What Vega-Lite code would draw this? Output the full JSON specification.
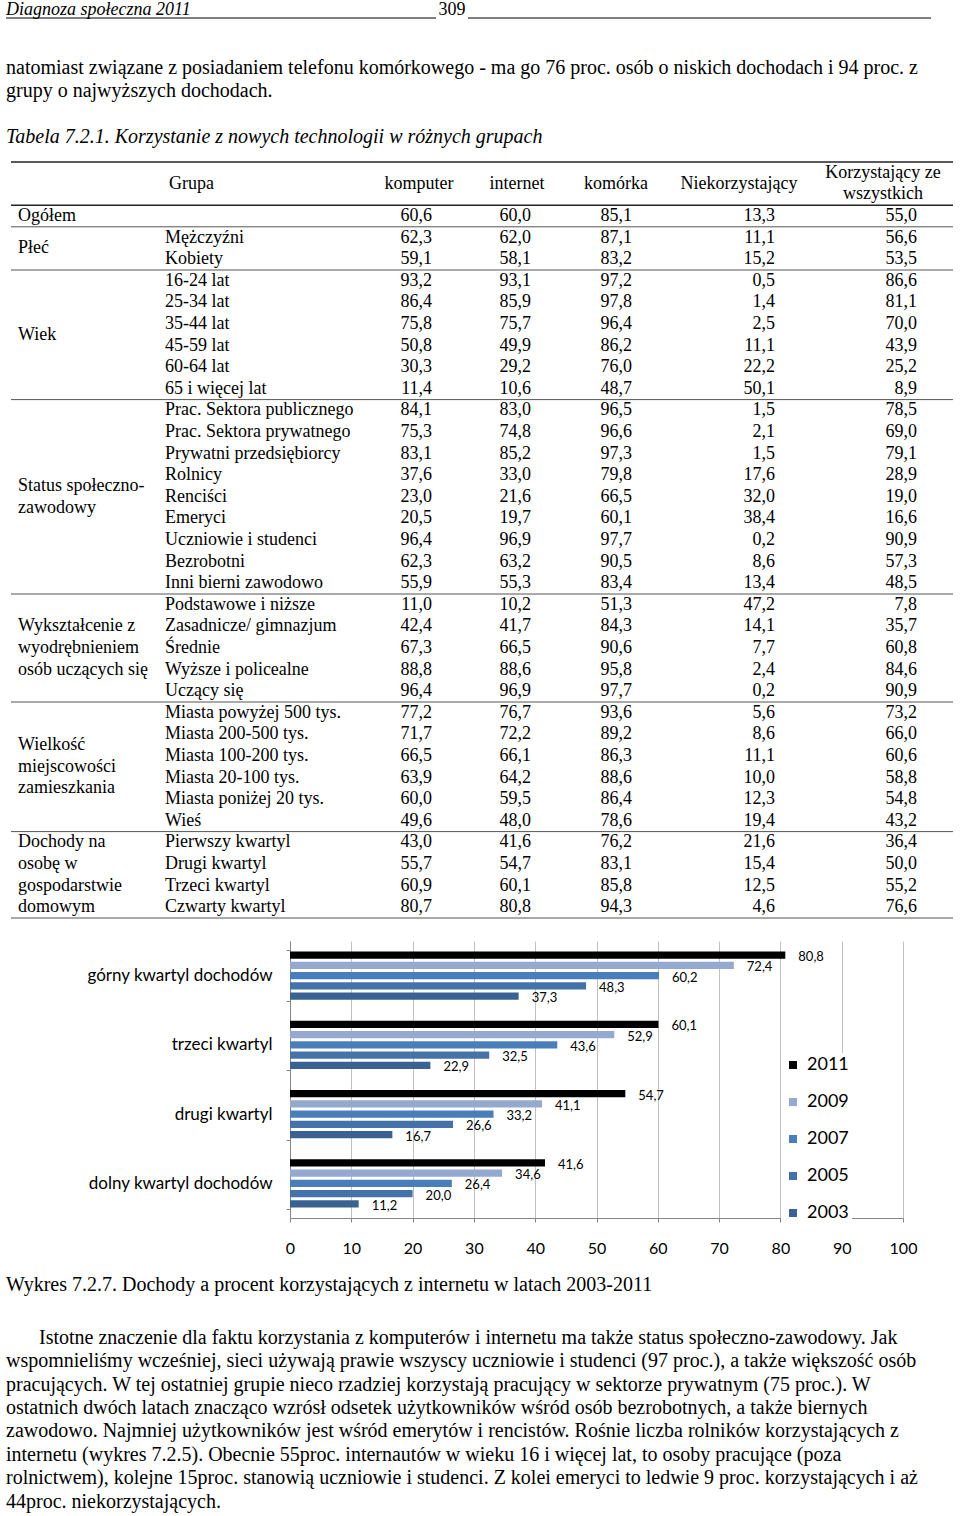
{
  "$schema": "https://vega.github.io/schema/vega-lite/v6.json",
  "background": "white",
  "padding": {"left": 5, "right": 5, "top": 0, "bottom": 0},
  "spacing": 0,
  "resolve": {"scale": {"color": "independent"}, "legend": {"color": "independent"}},
  "config": {
    "view": {"stroke": null},
    "locale": {"number": {"decimal": ",", "thousands": " ", "grouping": [3], "currency": ["", " zł"]}}
  },
  "datasets": {
    "teksty": [
      {"blok": "naglowek", "linia": 1, "rodzaj": "tytul", "tekst": "Diagnoza społeczna 2011"},
      {"blok": "strona", "linia": 1, "rodzaj": "numer", "tekst": "309"},
      {"blok": "gora", "linia": 1, "rodzaj": "akapit", "tekst": "natomiast związane z posiadaniem telefonu komórkowego - ma go 76 proc. osób o niskich dochodach i 94 proc. z"},
      {"blok": "gora", "linia": 2, "rodzaj": "akapit", "tekst": "grupy o najwyższych dochodach."},
      {"blok": "gora", "linia": 4, "rodzaj": "podpis", "tekst": "Tabela 7.2.1. Korzystanie z nowych technologii w różnych grupach"},
      {"blok": "wykres", "linia": 1, "rodzaj": "podpis", "tekst": "Wykres 7.2.7. Dochody a procent korzystających z internetu w latach 2003-2011"},
      {"blok": "dol", "linia": 1, "rodzaj": "akapit", "tekst": "Istotne znaczenie dla faktu korzystania z komputerów i internetu ma także status społeczno-zawodowy. Jak"},
      {"blok": "dol", "linia": 2, "rodzaj": "akapit", "tekst": "wspomnieliśmy wcześniej, sieci używają prawie wszyscy uczniowie i studenci (97 proc.), a także większość osób"},
      {"blok": "dol", "linia": 3, "rodzaj": "akapit", "tekst": "pracujących. W tej ostatniej grupie nieco rzadziej korzystają pracujący w sektorze prywatnym (75 proc.). W"},
      {"blok": "dol", "linia": 4, "rodzaj": "akapit", "tekst": "ostatnich dwóch latach znacząco wzrósł odsetek użytkowników wśród osób bezrobotnych, a także biernych"},
      {"blok": "dol", "linia": 5, "rodzaj": "akapit", "tekst": "zawodowo. Najmniej użytkowników jest wśród emerytów i rencistów. Rośnie liczba rolników korzystających z"},
      {"blok": "dol", "linia": 6, "rodzaj": "akapit", "tekst": "internetu (wykres 7.2.5). Obecnie 55proc. internautów w wieku 16 i więcej lat, to osoby pracujące (poza"},
      {"blok": "dol", "linia": 7, "rodzaj": "akapit", "tekst": "rolnictwem), kolejne 15proc. stanowią uczniowie i studenci. Z kolei emeryci to ledwie 9 proc. korzystających i aż"},
      {"blok": "dol", "linia": 8, "rodzaj": "akapit", "tekst": "44proc. niekorzystających."}
    ],
    "tabela": [
      {"r": 0, "kat": "Ogółem", "grupa": "", "komputer": 60.6, "internet": 60.0, "komorka": 85.1, "niekorzystajacy": 13.3, "wszystkich": 55.0},
      {"r": 1, "kat": "Płeć", "grupa": "Mężczyźni", "komputer": 62.3, "internet": 62.0, "komorka": 87.1, "niekorzystajacy": 11.1, "wszystkich": 56.6},
      {"r": 2, "kat": "Płeć", "grupa": "Kobiety", "komputer": 59.1, "internet": 58.1, "komorka": 83.2, "niekorzystajacy": 15.2, "wszystkich": 53.5},
      {"r": 3, "kat": "Wiek", "grupa": "16-24 lat", "komputer": 93.2, "internet": 93.1, "komorka": 97.2, "niekorzystajacy": 0.5, "wszystkich": 86.6},
      {"r": 4, "kat": "Wiek", "grupa": "25-34 lat", "komputer": 86.4, "internet": 85.9, "komorka": 97.8, "niekorzystajacy": 1.4, "wszystkich": 81.1},
      {"r": 5, "kat": "Wiek", "grupa": "35-44 lat", "komputer": 75.8, "internet": 75.7, "komorka": 96.4, "niekorzystajacy": 2.5, "wszystkich": 70.0},
      {"r": 6, "kat": "Wiek", "grupa": "45-59 lat", "komputer": 50.8, "internet": 49.9, "komorka": 86.2, "niekorzystajacy": 11.1, "wszystkich": 43.9},
      {"r": 7, "kat": "Wiek", "grupa": "60-64 lat", "komputer": 30.3, "internet": 29.2, "komorka": 76.0, "niekorzystajacy": 22.2, "wszystkich": 25.2},
      {"r": 8, "kat": "Wiek", "grupa": "65 i więcej lat", "komputer": 11.4, "internet": 10.6, "komorka": 48.7, "niekorzystajacy": 50.1, "wszystkich": 8.9},
      {"r": 9, "kat": "Status społeczno-\nzawodowy", "grupa": "Prac. Sektora publicznego", "komputer": 84.1, "internet": 83.0, "komorka": 96.5, "niekorzystajacy": 1.5, "wszystkich": 78.5},
      {"r": 10, "kat": "Status społeczno-\nzawodowy", "grupa": "Prac. Sektora prywatnego", "komputer": 75.3, "internet": 74.8, "komorka": 96.6, "niekorzystajacy": 2.1, "wszystkich": 69.0},
      {"r": 11, "kat": "Status społeczno-\nzawodowy", "grupa": "Prywatni przedsiębiorcy", "komputer": 83.1, "internet": 85.2, "komorka": 97.3, "niekorzystajacy": 1.5, "wszystkich": 79.1},
      {"r": 12, "kat": "Status społeczno-\nzawodowy", "grupa": "Rolnicy", "komputer": 37.6, "internet": 33.0, "komorka": 79.8, "niekorzystajacy": 17.6, "wszystkich": 28.9},
      {"r": 13, "kat": "Status społeczno-\nzawodowy", "grupa": "Renciści", "komputer": 23.0, "internet": 21.6, "komorka": 66.5, "niekorzystajacy": 32.0, "wszystkich": 19.0},
      {"r": 14, "kat": "Status społeczno-\nzawodowy", "grupa": "Emeryci", "komputer": 20.5, "internet": 19.7, "komorka": 60.1, "niekorzystajacy": 38.4, "wszystkich": 16.6},
      {"r": 15, "kat": "Status społeczno-\nzawodowy", "grupa": "Uczniowie i studenci", "komputer": 96.4, "internet": 96.9, "komorka": 97.7, "niekorzystajacy": 0.2, "wszystkich": 90.9},
      {"r": 16, "kat": "Status społeczno-\nzawodowy", "grupa": "Bezrobotni", "komputer": 62.3, "internet": 63.2, "komorka": 90.5, "niekorzystajacy": 8.6, "wszystkich": 57.3},
      {"r": 17, "kat": "Status społeczno-\nzawodowy", "grupa": "Inni bierni zawodowo", "komputer": 55.9, "internet": 55.3, "komorka": 83.4, "niekorzystajacy": 13.4, "wszystkich": 48.5},
      {"r": 18, "kat": "Wykształcenie z\nwyodrębnieniem\nosób uczących się", "grupa": "Podstawowe i niższe", "komputer": 11.0, "internet": 10.2, "komorka": 51.3, "niekorzystajacy": 47.2, "wszystkich": 7.8},
      {"r": 19, "kat": "Wykształcenie z\nwyodrębnieniem\nosób uczących się", "grupa": "Zasadnicze/ gimnazjum", "komputer": 42.4, "internet": 41.7, "komorka": 84.3, "niekorzystajacy": 14.1, "wszystkich": 35.7},
      {"r": 20, "kat": "Wykształcenie z\nwyodrębnieniem\nosób uczących się", "grupa": "Średnie", "komputer": 67.3, "internet": 66.5, "komorka": 90.6, "niekorzystajacy": 7.7, "wszystkich": 60.8},
      {"r": 21, "kat": "Wykształcenie z\nwyodrębnieniem\nosób uczących się", "grupa": "Wyższe i policealne", "komputer": 88.8, "internet": 88.6, "komorka": 95.8, "niekorzystajacy": 2.4, "wszystkich": 84.6},
      {"r": 22, "kat": "Wykształcenie z\nwyodrębnieniem\nosób uczących się", "grupa": "Uczący się", "komputer": 96.4, "internet": 96.9, "komorka": 97.7, "niekorzystajacy": 0.2, "wszystkich": 90.9},
      {"r": 23, "kat": "Wielkość\nmiejscowości\nzamieszkania", "grupa": "Miasta powyżej 500 tys.", "komputer": 77.2, "internet": 76.7, "komorka": 93.6, "niekorzystajacy": 5.6, "wszystkich": 73.2},
      {"r": 24, "kat": "Wielkość\nmiejscowości\nzamieszkania", "grupa": "Miasta 200-500 tys.", "komputer": 71.7, "internet": 72.2, "komorka": 89.2, "niekorzystajacy": 8.6, "wszystkich": 66.0},
      {"r": 25, "kat": "Wielkość\nmiejscowości\nzamieszkania", "grupa": "Miasta 100-200 tys.", "komputer": 66.5, "internet": 66.1, "komorka": 86.3, "niekorzystajacy": 11.1, "wszystkich": 60.6},
      {"r": 26, "kat": "Wielkość\nmiejscowości\nzamieszkania", "grupa": "Miasta 20-100 tys.", "komputer": 63.9, "internet": 64.2, "komorka": 88.6, "niekorzystajacy": 10.0, "wszystkich": 58.8},
      {"r": 27, "kat": "Wielkość\nmiejscowości\nzamieszkania", "grupa": "Miasta poniżej 20 tys.", "komputer": 60.0, "internet": 59.5, "komorka": 86.4, "niekorzystajacy": 12.3, "wszystkich": 54.8},
      {"r": 28, "kat": "Wielkość\nmiejscowości\nzamieszkania", "grupa": "Wieś", "komputer": 49.6, "internet": 48.0, "komorka": 78.6, "niekorzystajacy": 19.4, "wszystkich": 43.2},
      {"r": 29, "kat": "Dochody na\nosobę w\ngospodarstwie\ndomowym", "grupa": "Pierwszy kwartyl", "komputer": 43.0, "internet": 41.6, "komorka": 76.2, "niekorzystajacy": 21.6, "wszystkich": 36.4},
      {"r": 30, "kat": "Dochody na\nosobę w\ngospodarstwie\ndomowym", "grupa": "Drugi kwartyl", "komputer": 55.7, "internet": 54.7, "komorka": 83.1, "niekorzystajacy": 15.4, "wszystkich": 50.0},
      {"r": 31, "kat": "Dochody na\nosobę w\ngospodarstwie\ndomowym", "grupa": "Trzeci kwartyl", "komputer": 60.9, "internet": 60.1, "komorka": 85.8, "niekorzystajacy": 12.5, "wszystkich": 55.2},
      {"r": 32, "kat": "Dochody na\nosobę w\ngospodarstwie\ndomowym", "grupa": "Czwarty kwartyl", "komputer": 80.7, "internet": 80.8, "komorka": 94.3, "niekorzystajacy": 4.6, "wszystkich": 76.6}
    ],
    "wykres": [
      {"kwartyl": "górny kwartyl dochodów", "rok": "2011", "procent": 80.8},
      {"kwartyl": "górny kwartyl dochodów", "rok": "2009", "procent": 72.4},
      {"kwartyl": "górny kwartyl dochodów", "rok": "2007", "procent": 60.2},
      {"kwartyl": "górny kwartyl dochodów", "rok": "2005", "procent": 48.3},
      {"kwartyl": "górny kwartyl dochodów", "rok": "2003", "procent": 37.3},
      {"kwartyl": "trzeci kwartyl", "rok": "2011", "procent": 60.1},
      {"kwartyl": "trzeci kwartyl", "rok": "2009", "procent": 52.9},
      {"kwartyl": "trzeci kwartyl", "rok": "2007", "procent": 43.6},
      {"kwartyl": "trzeci kwartyl", "rok": "2005", "procent": 32.5},
      {"kwartyl": "trzeci kwartyl", "rok": "2003", "procent": 22.9},
      {"kwartyl": "drugi kwartyl", "rok": "2011", "procent": 54.7},
      {"kwartyl": "drugi kwartyl", "rok": "2009", "procent": 41.1},
      {"kwartyl": "drugi kwartyl", "rok": "2007", "procent": 33.2},
      {"kwartyl": "drugi kwartyl", "rok": "2005", "procent": 26.6},
      {"kwartyl": "drugi kwartyl", "rok": "2003", "procent": 16.7},
      {"kwartyl": "dolny kwartyl dochodów", "rok": "2011", "procent": 41.6},
      {"kwartyl": "dolny kwartyl dochodów", "rok": "2009", "procent": 34.6},
      {"kwartyl": "dolny kwartyl dochodów", "rok": "2007", "procent": 26.4},
      {"kwartyl": "dolny kwartyl dochodów", "rok": "2005", "procent": 20.0},
      {"kwartyl": "dolny kwartyl dochodów", "rok": "2003", "procent": 11.2}
    ]
  },
  "vconcat": [
    {
      "bounds": "flush",
      "spacing": 0,
      "hconcat": [
        {
          "width": 430, "height": 17,
          "data": {"name": "teksty"},
          "transform": [{"filter": "datum.blok == 'naglowek'"}],
          "layer": [
            {"mark": {"type": "text", "align": "left", "baseline": "middle", "font": "Liberation Serif", "fontSize": 18, "fontStyle": "italic", "color": "#000"},
             "encoding": {"x": {"value": 0}, "text": {"field": "tekst"}}},
            {"mark": {"type": "rule", "color": "#000", "strokeWidth": 1}, "encoding": {"y": {"value": "height"}}}
          ]
        },
        {
          "width": 32, "height": 17,
          "data": {"name": "teksty"},
          "transform": [{"filter": "datum.blok == 'strona'"}],
          "mark": {"type": "text", "align": "center", "baseline": "middle", "font": "Liberation Serif", "fontSize": 18, "color": "#000"},
          "encoding": {"text": {"field": "tekst"}}
        },
        {
          "width": 463, "height": 17,
          "data": {"name": "teksty"},
          "transform": [{"filter": "datum.blok == 'strona'"}],
          "mark": {"type": "rule", "color": "#000", "strokeWidth": 1},
          "encoding": {"y": {"value": "height"}}
        }
      ]
    },
    {"width": 1, "height": 37, "data": {"values": []}, "mark": {"type": "point", "opacity": 0}, "encoding": {}},
    {
      "width": 950, "height": 92.8,
      "data": {"name": "teksty"},
      "transform": [{"filter": "datum.blok == 'gora'"}],
      "encoding": {
        "x": {"value": 0},
        "y": {"field": "linia", "type": "ordinal", "scale": {"type": "point", "domain": [1, 2, 3, 4], "padding": 0.5}, "axis": null},
        "text": {"field": "tekst"}
      },
      "layer": [
        {"transform": [{"filter": "datum.rodzaj == 'akapit'"}],
         "mark": {"type": "text", "align": "left", "baseline": "middle", "font": "Liberation Serif", "fontSize": 20, "color": "#000"}},
        {"transform": [{"filter": "datum.rodzaj == 'podpis'"}],
         "mark": {"type": "text", "align": "left", "baseline": "middle", "font": "Liberation Serif", "fontSize": 20, "fontStyle": "italic", "color": "#000"}}
      ]
    },
    {"width": 1, "height": 11.5, "data": {"values": []}, "mark": {"type": "point", "opacity": 0}, "encoding": {}},
    {
      "bounds": "flush",
      "spacing": 0,
      "hconcat": [
        {"width": 5, "height": 756, "data": {"values": []}, "mark": {"type": "point", "opacity": 0}, "encoding": {}},
        {
          "width": 147, "height": 756,
          "data": {"name": "tabela"},
          "layer": [
            {"transform": [{"aggregate": [{"op": "mean", "field": "r", "as": "srodek"}], "groupby": ["kat"]}, {"filter": "length(split(datum.kat, '\\n')) == 1"}],
             "mark": {"type": "text", "align": "left", "baseline": "middle", "dx": 7, "lineBreak": "\n", "lineHeight": 21.6, "font": "Liberation Serif", "fontSize": 18, "color": "#000"},
             "encoding": {"x": {"value": 0}, "y": {"field": "srodek", "type": "quantitative", "scale": {"domain": [-2.5, 32.5], "reverse": true, "nice": false, "zero": false}, "axis": null}, "text": {"field": "kat"}}},
            {"transform": [{"aggregate": [{"op": "mean", "field": "r", "as": "srodek"}], "groupby": ["kat"]}, {"filter": "length(split(datum.kat, '\\n')) == 2"}],
             "mark": {"type": "text", "align": "left", "baseline": "middle", "dx": 7, "dy": -10.8, "lineBreak": "\n", "lineHeight": 21.6, "font": "Liberation Serif", "fontSize": 18, "color": "#000"},
             "encoding": {"x": {"value": 0}, "y": {"field": "srodek", "type": "quantitative"}, "text": {"field": "kat"}}},
            {"transform": [{"aggregate": [{"op": "mean", "field": "r", "as": "srodek"}], "groupby": ["kat"]}, {"filter": "length(split(datum.kat, '\\n')) == 3"}],
             "mark": {"type": "text", "align": "left", "baseline": "middle", "dx": 7, "dy": -21.6, "lineBreak": "\n", "lineHeight": 21.6, "font": "Liberation Serif", "fontSize": 18, "color": "#000"},
             "encoding": {"x": {"value": 0}, "y": {"field": "srodek", "type": "quantitative"}, "text": {"field": "kat"}}},
            {"transform": [{"aggregate": [{"op": "mean", "field": "r", "as": "srodek"}], "groupby": ["kat"]}, {"filter": "length(split(datum.kat, '\\n')) == 4"}],
             "mark": {"type": "text", "align": "left", "baseline": "middle", "dx": 7, "dy": -32.4, "lineBreak": "\n", "lineHeight": 21.6, "font": "Liberation Serif", "fontSize": 18, "color": "#000"},
             "encoding": {"x": {"value": 0}, "y": {"field": "srodek", "type": "quantitative"}, "text": {"field": "kat"}}},
            {"data": {"values": [{}]}, "mark": {"type": "rule", "color": "#222", "strokeWidth": 1.5}, "encoding": {"y": {"datum": -2.5, "type": "quantitative"}}},
            {"data": {"values": [{}]}, "mark": {"type": "rule", "color": "#222", "strokeWidth": 1.5}, "encoding": {"y": {"datum": -0.5, "type": "quantitative"}}},
            {"transform": [{"aggregate": [{"op": "max", "field": "r", "as": "ostatni"}], "groupby": ["kat"]}],
             "mark": {"type": "rule", "color": "#555", "strokeWidth": 1, "yOffset": 10.8},
             "encoding": {"y": {"field": "ostatni", "type": "quantitative"}}}
          ]
        },
        {
          "width": 213, "height": 756,
          "layer": [
            {"data": {"name": "tabela"},
             "mark": {"type": "text", "align": "left", "baseline": "middle", "dx": 7, "font": "Liberation Serif", "fontSize": 18, "color": "#000"},
             "encoding": {"x": {"value": 0}, "y": {"field": "r", "type": "quantitative", "scale": {"domain": [-2.5, 32.5], "reverse": true, "nice": false, "zero": false}, "axis": null}, "text": {"field": "grupa"}}},
            {"data": {"values": [{"naglowek": "Grupa"}]},
             "mark": {"type": "text", "align": "left", "baseline": "middle", "dx": 11, "font": "Liberation Serif", "fontSize": 18, "color": "#000"},
             "encoding": {"x": {"value": 0}, "y": {"datum": -1.5, "type": "quantitative"}, "text": {"field": "naglowek"}}},
            {"data": {"values": [{}]}, "mark": {"type": "rule", "color": "#222", "strokeWidth": 1.5}, "encoding": {"y": {"datum": -2.5, "type": "quantitative"}}},
            {"data": {"values": [{}]}, "mark": {"type": "rule", "color": "#222", "strokeWidth": 1.5}, "encoding": {"y": {"datum": -0.5, "type": "quantitative"}}},
            {"data": {"name": "tabela"},
             "transform": [{"aggregate": [{"op": "max", "field": "r", "as": "ostatni"}], "groupby": ["kat"]}],
             "mark": {"type": "rule", "color": "#555", "strokeWidth": 1, "yOffset": 10.8},
             "encoding": {"y": {"field": "ostatni", "type": "quantitative"}}}
          ]
        },
        {
          "width": 96, "height": 756,
          "layer": [
            {"data": {"name": "tabela"},
             "mark": {"type": "text", "align": "right", "baseline": "middle", "dx": -35, "font": "Liberation Serif", "fontSize": 18, "color": "#000"},
             "encoding": {"x": {"value": "width"}, "y": {"field": "r", "type": "quantitative", "scale": {"domain": [-2.5, 32.5], "reverse": true, "nice": false, "zero": false}, "axis": null}, "text": {"field": "komputer", "type": "quantitative", "format": ".1f"}}},
            {"data": {"values": [{"naglowek": "komputer"}]},
             "mark": {"type": "text", "align": "center", "baseline": "middle", "font": "Liberation Serif", "fontSize": 18, "color": "#000"},
             "encoding": {"y": {"datum": -1.5, "type": "quantitative"}, "text": {"field": "naglowek"}}},
            {"data": {"values": [{}]}, "mark": {"type": "rule", "color": "#222", "strokeWidth": 1.5}, "encoding": {"y": {"datum": -2.5, "type": "quantitative"}}},
            {"data": {"values": [{}]}, "mark": {"type": "rule", "color": "#222", "strokeWidth": 1.5}, "encoding": {"y": {"datum": -0.5, "type": "quantitative"}}},
            {"data": {"name": "tabela"},
             "transform": [{"aggregate": [{"op": "max", "field": "r", "as": "ostatni"}], "groupby": ["kat"]}],
             "mark": {"type": "rule", "color": "#555", "strokeWidth": 1, "yOffset": 10.8},
             "encoding": {"y": {"field": "ostatni", "type": "quantitative"}}}
          ]
        },
        {
          "width": 100, "height": 756,
          "layer": [
            {"data": {"name": "tabela"},
             "mark": {"type": "text", "align": "right", "baseline": "middle", "dx": -36, "font": "Liberation Serif", "fontSize": 18, "color": "#000"},
             "encoding": {"x": {"value": "width"}, "y": {"field": "r", "type": "quantitative", "scale": {"domain": [-2.5, 32.5], "reverse": true, "nice": false, "zero": false}, "axis": null}, "text": {"field": "internet", "type": "quantitative", "format": ".1f"}}},
            {"data": {"values": [{"naglowek": "internet"}]},
             "mark": {"type": "text", "align": "center", "baseline": "middle", "font": "Liberation Serif", "fontSize": 18, "color": "#000"},
             "encoding": {"y": {"datum": -1.5, "type": "quantitative"}, "text": {"field": "naglowek"}}},
            {"data": {"values": [{}]}, "mark": {"type": "rule", "color": "#222", "strokeWidth": 1.5}, "encoding": {"y": {"datum": -2.5, "type": "quantitative"}}},
            {"data": {"values": [{}]}, "mark": {"type": "rule", "color": "#222", "strokeWidth": 1.5}, "encoding": {"y": {"datum": -0.5, "type": "quantitative"}}},
            {"data": {"name": "tabela"},
             "transform": [{"aggregate": [{"op": "max", "field": "r", "as": "ostatni"}], "groupby": ["kat"]}],
             "mark": {"type": "rule", "color": "#555", "strokeWidth": 1, "yOffset": 10.8},
             "encoding": {"y": {"field": "ostatni", "type": "quantitative"}}}
          ]
        },
        {
          "width": 98, "height": 756,
          "layer": [
            {"data": {"name": "tabela"},
             "mark": {"type": "text", "align": "right", "baseline": "middle", "dx": -33, "font": "Liberation Serif", "fontSize": 18, "color": "#000"},
             "encoding": {"x": {"value": "width"}, "y": {"field": "r", "type": "quantitative", "scale": {"domain": [-2.5, 32.5], "reverse": true, "nice": false, "zero": false}, "axis": null}, "text": {"field": "komorka", "type": "quantitative", "format": ".1f"}}},
            {"data": {"values": [{"naglowek": "komórka"}]},
             "mark": {"type": "text", "align": "center", "baseline": "middle", "font": "Liberation Serif", "fontSize": 18, "color": "#000"},
             "encoding": {"y": {"datum": -1.5, "type": "quantitative"}, "text": {"field": "naglowek"}}},
            {"data": {"values": [{}]}, "mark": {"type": "rule", "color": "#222", "strokeWidth": 1.5}, "encoding": {"y": {"datum": -2.5, "type": "quantitative"}}},
            {"data": {"values": [{}]}, "mark": {"type": "rule", "color": "#222", "strokeWidth": 1.5}, "encoding": {"y": {"datum": -0.5, "type": "quantitative"}}},
            {"data": {"name": "tabela"},
             "transform": [{"aggregate": [{"op": "max", "field": "r", "as": "ostatni"}], "groupby": ["kat"]}],
             "mark": {"type": "rule", "color": "#555", "strokeWidth": 1, "yOffset": 10.8},
             "encoding": {"y": {"field": "ostatni", "type": "quantitative"}}}
          ]
        },
        {
          "width": 148, "height": 756,
          "layer": [
            {"data": {"name": "tabela"},
             "mark": {"type": "text", "align": "right", "baseline": "middle", "dx": -38, "font": "Liberation Serif", "fontSize": 18, "color": "#000"},
             "encoding": {"x": {"value": "width"}, "y": {"field": "r", "type": "quantitative", "scale": {"domain": [-2.5, 32.5], "reverse": true, "nice": false, "zero": false}, "axis": null}, "text": {"field": "niekorzystajacy", "type": "quantitative", "format": ".1f"}}},
            {"data": {"values": [{"naglowek": "Niekorzystający"}]},
             "mark": {"type": "text", "align": "center", "baseline": "middle", "font": "Liberation Serif", "fontSize": 18, "color": "#000"},
             "encoding": {"y": {"datum": -1.5, "type": "quantitative"}, "text": {"field": "naglowek"}}},
            {"data": {"values": [{}]}, "mark": {"type": "rule", "color": "#222", "strokeWidth": 1.5}, "encoding": {"y": {"datum": -2.5, "type": "quantitative"}}},
            {"data": {"values": [{}]}, "mark": {"type": "rule", "color": "#222", "strokeWidth": 1.5}, "encoding": {"y": {"datum": -0.5, "type": "quantitative"}}},
            {"data": {"name": "tabela"},
             "transform": [{"aggregate": [{"op": "max", "field": "r", "as": "ostatni"}], "groupby": ["kat"]}],
             "mark": {"type": "rule", "color": "#555", "strokeWidth": 1, "yOffset": 10.8},
             "encoding": {"y": {"field": "ostatni", "type": "quantitative"}}}
          ]
        },
        {
          "width": 140, "height": 756,
          "layer": [
            {"data": {"name": "tabela"},
             "mark": {"type": "text", "align": "right", "baseline": "middle", "dx": -36, "font": "Liberation Serif", "fontSize": 18, "color": "#000"},
             "encoding": {"x": {"value": "width"}, "y": {"field": "r", "type": "quantitative", "scale": {"domain": [-2.5, 32.5], "reverse": true, "nice": false, "zero": false}, "axis": null}, "text": {"field": "wszystkich", "type": "quantitative", "format": ".1f"}}},
            {"data": {"values": [{"naglowek": "Korzystający ze\nwszystkich"}]},
             "mark": {"type": "text", "align": "center", "baseline": "middle", "dy": -10.8, "lineBreak": "\n", "lineHeight": 21.6, "font": "Liberation Serif", "fontSize": 18, "color": "#000"},
             "encoding": {"y": {"datum": -1.5, "type": "quantitative"}, "text": {"field": "naglowek"}}},
            {"data": {"values": [{}]}, "mark": {"type": "rule", "color": "#222", "strokeWidth": 1.5}, "encoding": {"y": {"datum": -2.5, "type": "quantitative"}}},
            {"data": {"values": [{}]}, "mark": {"type": "rule", "color": "#222", "strokeWidth": 1.5}, "encoding": {"y": {"datum": -0.5, "type": "quantitative"}}},
            {"data": {"name": "tabela"},
             "transform": [{"aggregate": [{"op": "max", "field": "r", "as": "ostatni"}], "groupby": ["kat"]}],
             "mark": {"type": "rule", "color": "#555", "strokeWidth": 1, "yOffset": 10.8},
             "encoding": {"y": {"field": "ostatni", "type": "quantitative"}}}
          ]
        }
      ]
    },
    {"width": 1, "height": 13, "data": {"values": []}, "mark": {"type": "point", "opacity": 0}, "encoding": {}},
    {
      "bounds": "flush",
      "spacing": 0,
      "resolve": {"scale": {"color": "independent"}, "legend": {"color": "independent"}},
      "hconcat": [
        {"width": 284, "height": 277, "data": {"values": []}, "mark": {"type": "point", "opacity": 0}, "encoding": {}},
        {
          "width": 613, "height": 277,
          "data": {"name": "wykres"},
          "encoding": {
            "y": {"field": "kwartyl", "type": "nominal",
                  "sort": ["górny kwartyl dochodów", "trzeci kwartyl", "drugi kwartyl", "dolny kwartyl dochodów"],
                  "scale": {"paddingInner": 0.26, "paddingOuter": 0.13},
                  "axis": {"title": null, "tickBand": "extent", "labelFont": "Lato", "labelFontSize": 17, "labelColor": "#000", "labelPadding": 14, "labelLimit": 300, "tickSize": 4, "domainColor": "#868686", "tickColor": "#868686", "grid": false}},
            "yOffset": {"field": "rok", "type": "nominal", "sort": ["2011", "2009", "2007", "2005", "2003"],
                        "scale": {"paddingInner": 0.3, "paddingOuter": 0.15}},
            "x": {"field": "procent", "type": "quantitative", "scale": {"domain": [0, 100], "nice": false},
                  "axis": {"title": null, "values": [0, 10, 20, 30, 40, 50, 60, 70, 80, 90, 100], "format": "d", "grid": true, "gridColor": "#c0c0c0", "tickSize": 4, "domainColor": "#868686", "tickColor": "#868686", "labelFont": "Lato", "labelFontSize": 16, "labelColor": "#000", "labelPadding": 18, "labelFlush": false, "labelOverlap": false}}
          },
          "layer": [
            {"mark": {"type": "bar"},
             "encoding": {"color": {"field": "rok", "type": "nominal",
               "scale": {"domain": ["2011", "2009", "2007", "2005", "2003"], "range": ["#000000", "#95a8d0", "#4a7ebb", "#4572a8", "#3b6193"]},
               "legend": {"orient": "none", "legendX": 491, "legendY": 112, "title": null, "fillColor": "white", "padding": 3, "rowPadding": 19, "symbolType": "square", "symbolSize": 64, "symbolStrokeWidth": 0, "labelFont": "Lato", "labelFontSize": 18, "labelColor": "#000", "labelOffset": 5, "zindex": 1}}}},
            {"mark": {"type": "text", "align": "left", "baseline": "middle", "dx": 13, "dy": 2, "font": "Lato", "fontSize": 13, "color": "#000"},
             "encoding": {"text": {"field": "procent", "type": "quantitative", "format": ".1f"}}}
          ]
        }
      ]
    },
    {"width": 1, "height": 17, "data": {"values": []}, "mark": {"type": "point", "opacity": 0}, "encoding": {}},
    {
      "width": 950, "height": 23.4,
      "data": {"name": "teksty"},
      "transform": [{"filter": "datum.blok == 'wykres'"}],
      "mark": {"type": "text", "align": "left", "baseline": "middle", "font": "Liberation Serif", "fontSize": 20, "color": "#000"},
      "encoding": {"x": {"value": 0}, "text": {"field": "tekst"}}
    },
    {"width": 1, "height": 29, "data": {"values": []}, "mark": {"type": "point", "opacity": 0}, "encoding": {}},
    {
      "width": 950, "height": 187.2,
      "data": {"name": "teksty"},
      "transform": [{"filter": "datum.blok == 'dol'"}],
      "encoding": {
        "x": {"value": 0},
        "y": {"field": "linia", "type": "ordinal", "scale": {"type": "point", "domain": [1, 2, 3, 4, 5, 6, 7, 8], "padding": 0.5}, "axis": null},
        "text": {"field": "tekst"}
      },
      "layer": [
        {"transform": [{"filter": "datum.linia == 1"}],
         "mark": {"type": "text", "align": "left", "baseline": "middle", "dx": 33, "font": "Liberation Serif", "fontSize": 20, "color": "#000"}},
        {"transform": [{"filter": "datum.linia > 1"}],
         "mark": {"type": "text", "align": "left", "baseline": "middle", "font": "Liberation Serif", "fontSize": 20, "color": "#000"}}
      ]
    }
  ]
}
